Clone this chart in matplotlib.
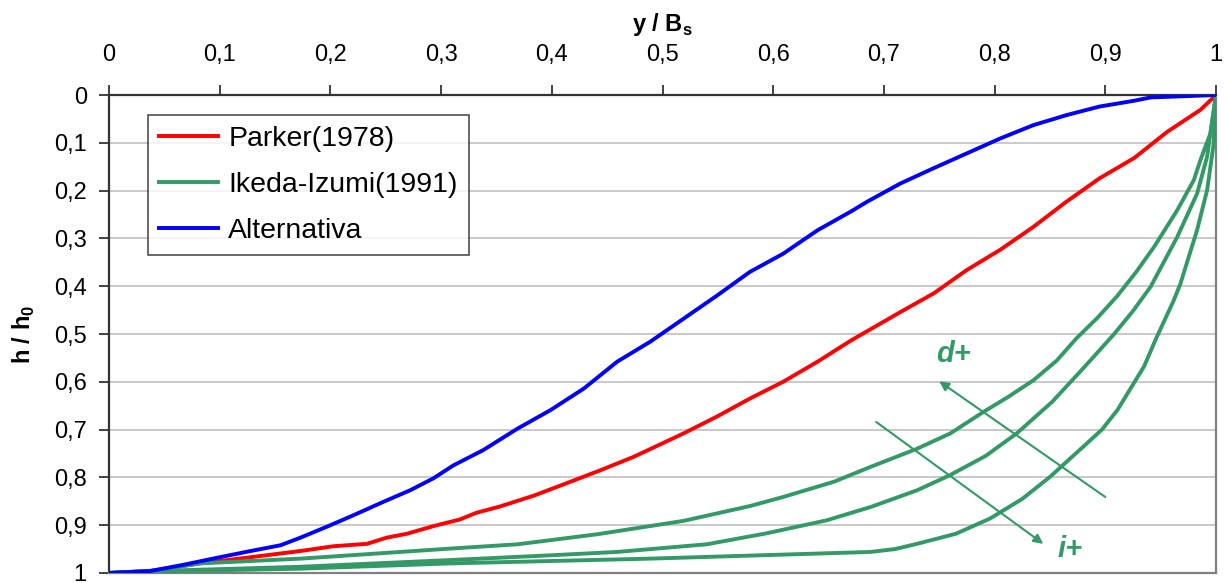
import matplotlib
matplotlib.use("Agg")
import matplotlib.pyplot as plt

plt.rcParams["font.family"] = ["Liberation Sans", "DejaVu Sans"]
plt.rcParams["mathtext.fontset"] = "custom"
plt.rcParams["mathtext.rm"] = "Liberation Sans"
plt.rcParams["mathtext.bf"] = "Liberation Sans:bold"

# Parker (1978)
parker_y = [0, 0.037, 0.082, 0.128, 0.173, 0.203, 0.233, 0.251, 0.269, 0.293, 0.317, 0.332,
            0.353, 0.384, 0.417, 0.444, 0.474, 0.519, 0.549, 0.579, 0.609, 0.640, 0.670,
            0.715, 0.745, 0.775, 0.805, 0.835, 0.865, 0.895, 0.926, 0.956, 0.986, 1.0]
parker_h = [1.0, 0.996, 0.980, 0.967, 0.954, 0.944, 0.939, 0.926, 0.918, 0.902, 0.888, 0.874,
            0.861, 0.838, 0.809, 0.785, 0.757, 0.708, 0.673, 0.635, 0.600, 0.558, 0.514,
            0.454, 0.415, 0.366, 0.324, 0.276, 0.223, 0.174, 0.132, 0.077, 0.031, 0.0]

# Ikeda-Izumi (1991), tres curvas
ikeda1_y = [0, 0.04, 0.082, 0.173, 0.263, 0.308, 0.369, 0.441, 0.519, 0.579, 0.609, 0.655,
            0.688, 0.730, 0.760, 0.790, 0.812, 0.835, 0.856, 0.874, 0.893, 0.911, 0.928, 0.944,
            0.965, 0.980, 0.986, 0.995, 1.0]
ikeda1_h = [1.0, 0.995, 0.980, 0.970, 0.956, 0.949, 0.940, 0.919, 0.891, 0.860, 0.841, 0.809,
            0.778, 0.740, 0.708, 0.663, 0.632, 0.597, 0.556, 0.509, 0.466, 0.420, 0.370, 0.318,
            0.241, 0.178, 0.136, 0.080, 0.0]

ikeda2_y = [0, 0.04, 0.173, 0.308, 0.399, 0.459, 0.540, 0.594, 0.648, 0.688, 0.730, 0.760,
            0.792, 0.820, 0.852, 0.880, 0.908, 0.925, 0.941, 0.965, 0.983, 0.992, 1.0]
ikeda2_h = [1.0, 0.996, 0.987, 0.973, 0.963, 0.956, 0.940, 0.917, 0.890, 0.862, 0.827, 0.795,
            0.755, 0.708, 0.642, 0.572, 0.500, 0.452, 0.401, 0.297, 0.206, 0.129, 0.0]

ikeda3_y = [0, 0.04, 0.173, 0.308, 0.489, 0.688, 0.710, 0.730, 0.765, 0.796, 0.825, 0.850,
            0.880, 0.897, 0.911, 0.935, 0.946, 0.962, 0.968, 0.983, 0.992, 0.998, 1.0]
ikeda3_h = [1.0, 0.997, 0.991, 0.980, 0.970, 0.956, 0.950, 0.939, 0.918, 0.886, 0.845, 0.799,
            0.736, 0.700, 0.659, 0.568, 0.509, 0.429, 0.394, 0.282, 0.199, 0.101, 0.0]

# Alternativa
alt_y = [0, 0.037, 0.067, 0.098, 0.128, 0.155, 0.173, 0.197, 0.221, 0.248, 0.272, 0.293,
         0.311, 0.338, 0.369, 0.399, 0.429, 0.459, 0.489, 0.519, 0.549, 0.579, 0.609, 0.640,
         0.670, 0.685, 0.715, 0.745, 0.775, 0.805, 0.835, 0.865, 0.895, 0.926, 0.941, 1.0]
alt_h = [1.0, 0.996, 0.983, 0.968, 0.954, 0.942, 0.926, 0.903, 0.879, 0.851, 0.827, 0.802,
         0.775, 0.743, 0.698, 0.659, 0.614, 0.558, 0.516, 0.468, 0.420, 0.370, 0.332, 0.283,
         0.244, 0.223, 0.185, 0.153, 0.122, 0.091, 0.063, 0.042, 0.024, 0.012, 0.005, 0.0]

ticks = [0, 0.1, 0.2, 0.3, 0.4, 0.5, 0.6, 0.7, 0.8, 0.9, 1.0]
tick_labels = ["0", "0,1", "0,2", "0,3", "0,4", "0,5", "0,6", "0,7", "0,8", "0,9", "1"]

# flechas: (inicio), (fin)
arrow_i = [(0.693, 0.684), (0.844, 0.939)]
arrow_d = [(0.900, 0.841), (0.750, 0.599)]

rojo = "#ff0000"
verde = "#339966"
azul = "#0000ff"

fig = plt.figure(figsize=(12.28, 5.83), dpi=100)
ax = fig.add_axes([0.0888, 0.0172, 0.9014, 0.8198])

lw = 2.8
ax.plot(parker_y, parker_h, color=rojo, lw=lw, label="Parker(1978)", zorder=3)
ax.plot(ikeda1_y, ikeda1_h, color=verde, lw=lw, label="Ikeda-Izumi(1991)", zorder=3)
ax.plot(ikeda2_y, ikeda2_h, color=verde, lw=lw, zorder=3)
ax.plot(ikeda3_y, ikeda3_h, color=verde, lw=lw, zorder=3)
ax.plot(alt_y, alt_h, color=azul, lw=lw, label="Alternativa", zorder=4)

ax.set_xlim(0, 1)
ax.set_ylim(1, 0)
ax.xaxis.tick_top()
ax.xaxis.set_label_position("top")
ax.set_xticks(ticks)
ax.set_xticklabels(tick_labels)
ax.set_yticks(ticks)
ax.set_yticklabels(tick_labels)
ax.tick_params(axis="both", direction="out", length=7, width=1.2, labelsize=17, colors="#222222",
               labelcolor="black")
ax.tick_params(axis="x", pad=14)
ax.tick_params(axis="y", pad=9)
ax.yaxis.grid(True, color="#c0c0c0", lw=1.2)
ax.set_axisbelow(True)

ax.spines["top"].set_color("#333333")
ax.spines["left"].set_color("#333333")
ax.spines["right"].set_color("#808080")
ax.spines["bottom"].set_color("#808080")
for s in ax.spines.values():
    s.set_linewidth(1.6)

ax.set_xlabel(r"y / B$_\mathbf{s}$", fontsize=17, fontweight="bold", labelpad=9)
ax.set_ylabel(r"h / h$_\mathbf{0}$", fontsize=17, fontweight="bold", labelpad=12)

for (x0, h0), (x1, h1) in [arrow_i, arrow_d]:
    ax.annotate("", xy=(x1, h1), xytext=(x0, h0),
                arrowprops=dict(arrowstyle="-|>", color=verde, lw=1.5, mutation_scale=14,
                                shrinkA=0, shrinkB=0))
ax.text(0.763, 0.541, "d+", color=verde, fontsize=21, fontweight="bold", fontstyle="italic",
        ha="center", va="center")
ax.text(0.868, 0.949, "i+", color=verde, fontsize=21, fontweight="bold", fontstyle="italic",
        ha="center", va="center")

leg = ax.legend(loc="upper left", bbox_to_anchor=(0.035, 0.958), fontsize=20.5, frameon=True,
                fancybox=False, edgecolor="#222222", handlelength=2.1, handletextpad=0.35,
                labelspacing=0.7, borderpad=0.38, borderaxespad=0)
leg.get_frame().set_linewidth(1.2)

fig.savefig("out.png", dpi=100)
